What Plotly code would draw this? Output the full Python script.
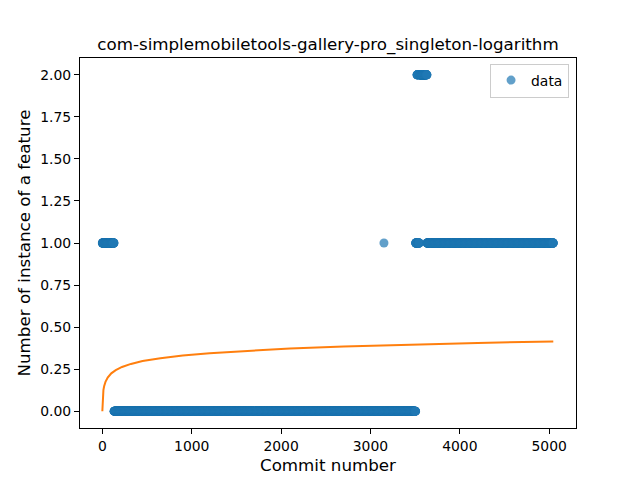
import plotly.graph_objects as go

# runs of commits: (first commit, last commit, feature count)
run_start = [0, 131, 3151, 3152, 3506, 3521, 3531, 3546, 3633]
run_end = [130, 3150, 3151, 3505, 3520, 3530, 3545, 3632, 5046]
run_value = [1, 0, 1, 0, 1, 2, 1, 2, 1]

# logarithm fit
fit_x = [0, 1, 2, 4, 7, 12, 20, 35, 60, 100, 150, 220, 320, 450, 650, 900, 1200, 1600,
         2100, 2700, 3400, 4200, 5046]
fit_y = [0.0, 0.034, 0.054, 0.078, 0.101, 0.125, 0.148, 0.174, 0.200, 0.225, 0.244, 0.263,
         0.281, 0.298, 0.315, 0.331, 0.345, 0.359, 0.373, 0.385, 0.396, 0.406, 0.415]

commits = []
counts = []
for a, b, v in zip(run_start, run_end, run_value):
    for c in range(a, b + 1):
        commits.append(c)
        counts.append(v)

font = "DejaVu Sans"

fig = go.Figure()
fig.add_trace(go.Scatter(x=commits, y=counts, mode="markers", name="data",
                         marker=dict(color="#1f77b4", size=9, opacity=0.7, line=dict(width=0))))
fig.add_trace(go.Scatter(x=fit_x, y=fit_y, mode="lines", showlegend=False,
                         line=dict(color="#ff7f0e", width=2)))

axis = dict(showline=True, linecolor="black", linewidth=1, mirror=True, showgrid=False,
            zeroline=False, ticks="outside", ticklen=5, tickcolor="black", automargin=False,
            tickfont=dict(family=font, size=13.9, color="black"))

# the page body adds 8px on the left and top, so margins are shifted by that
fig.update_layout(
    width=640, height=480,
    paper_bgcolor="white", plot_bgcolor="white",
    margin=dict(l=72, r=72, t=50, b=60),
    title=dict(text="com-simplemobiletools-gallery-pro_singleton-logarithm",
               x=0.5, xref="paper", xanchor="center", y=0.925, yanchor="middle",
               font=dict(family=font, size=16.7, color="black")),
    xaxis=dict(axis, range=[-250, 5300], tickvals=[0, 1000, 2000, 3000, 4000, 5000],
               title=dict(text="Commit number", font=dict(family=font, size=16.7, color="black"), standoff=6)),
    yaxis=dict(axis, range=[-0.1, 2.1], tickvals=[0, 0.25, 0.5, 0.75, 1.0, 1.25, 1.5, 1.75, 2.0],
               tickformat=".2f",
               title=dict(text="Number of instance of a feature", font=dict(family=font, size=16.7, color="black"), standoff=5)),
    legend=dict(x=0.986, y=0.985, xanchor="right", yanchor="top", bgcolor="white",
                bordercolor="#cccccc", borderwidth=1, font=dict(family=font, size=13.9, color="black")),
)

fig.write_html("out.html")
